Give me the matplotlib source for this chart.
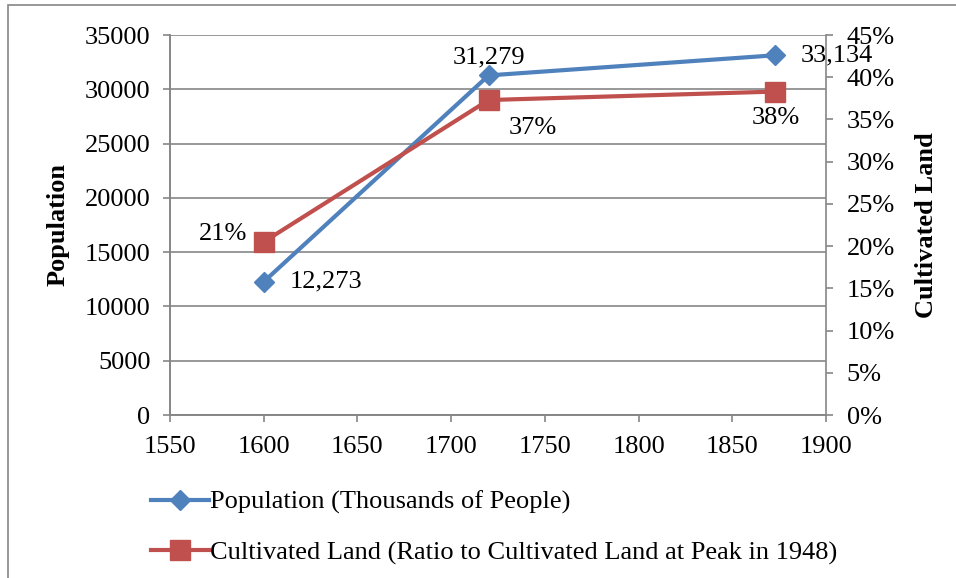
import matplotlib
matplotlib.use("Agg")
import matplotlib.pyplot as plt
from matplotlib.patches import Rectangle
from matplotlib.ticker import FuncFormatter, MultipleLocator

## --- Data ---
years = [1600, 1720, 1873]
population = [12273, 31279, 33134]
cultivated = [0.205, 0.373, 0.383]
pop_labels = ["12,273", "31,279", "33,134"]
cult_labels = ["21%", "37%", "38%"]

## --- Style ---
BLUE = "#4F81BD"
RED = "#C0504D"
GREY = "#868686"
FONT = "Liberation Serif"
FS = 19

plt.rcParams['font.family'] = [FONT, 'DejaVu Serif']
plt.rcParams['font.size'] = FS

fig = plt.figure(figsize=(9.56, 5.78), dpi=100)
ax = fig.add_axes([170 / 956, 1 - 415 / 578, 656 / 956, 380 / 578])
ax2 = ax.twinx()

# outer chart border (cropped on right/bottom)
fig.patches.append(Rectangle((8 / 956, -0.1), 1.2, 1.1 - 5 / 578, transform=fig.transFigure,
                             fill=False, edgecolor=GREY, linewidth=1.2))

l1, = ax.plot(years, population, color=BLUE, lw=3, marker='D', ms=10,
              label="Population (Thousands of People)", zorder=3)
l2, = ax2.plot(years, cultivated, color=RED, lw=3, marker='s', ms=14,
               label="Cultivated Land (Ratio to Cultivated Land at Peak in 1948)", zorder=3)

ax.set_xlim(1550, 1900)
ax.set_ylim(0, 35000)
ax2.set_ylim(0, 0.45)
ax.xaxis.set_major_locator(MultipleLocator(50))
ax.yaxis.set_major_locator(MultipleLocator(5000))
ax2.yaxis.set_major_locator(MultipleLocator(0.05))
ax2.yaxis.set_major_formatter(FuncFormatter(lambda v, p: f"{round(v * 100)}%"))

ax.grid(axis='y', color=GREY, lw=1.2)
ax.set_axisbelow(True)
for a in (ax, ax2):
    for s in a.spines.values():
        s.set_color(GREY)
        s.set_linewidth(1.2)
    a.spines['top'].set_visible(False)
    a.tick_params(direction='out', length=5, width=1.2, color=GREY, labelsize=FS)
ax.spines['right'].set_visible(False)
ax.tick_params(axis='y', pad=9)
ax.tick_params(axis='x', pad=10)
ax2.tick_params(axis='y', pad=10)

ax.set_ylabel("Population", fontweight='bold', fontsize=FS, labelpad=11)
ax2.set_ylabel("Cultivated Land", fontweight='bold', fontsize=FS, labelpad=14)

# data labels
pop_offsets = [(19, 0, 'left'), (0, 13, 'center'), (18, 0, 'left')]
cult_offsets = [(-12, 6, 'right'), (32, -20, 'center'), (0, -19, 'center')]
for x, y, t, (dx, dy, ha) in zip(years, population, pop_labels, pop_offsets):
    ax.annotate(t, (x, y), xytext=(dx, dy), textcoords='offset points',
                ha=ha, va='center', fontsize=FS, zorder=5)
for x, y, t, (dx, dy, ha) in zip(years, cultivated, cult_labels, cult_offsets):
    ax2.annotate(t, (x, y), xytext=(dx, dy), textcoords='offset points',
                 ha=ha, va='center', fontsize=FS, zorder=5)

fig.legend(handles=[l1, l2], loc='upper left', bbox_to_anchor=(140 / 956, 1 - 480 / 578),
           frameon=False, fontsize=FS, handlelength=2.2, handletextpad=0.05,
           labelspacing=1.0, borderaxespad=0)

fig.savefig("out.png", dpi=100)
